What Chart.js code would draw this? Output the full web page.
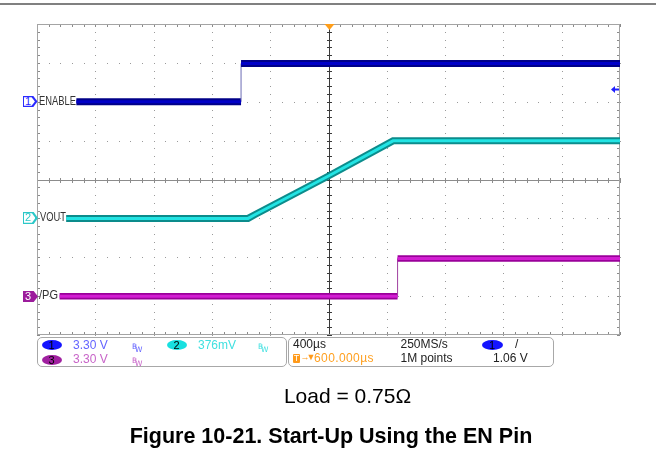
<!DOCTYPE html>
<html>
<head>
<meta charset="utf-8">
<script src="https://cdn.jsdelivr.net/npm/chart.js@4"></script>
<style>
  body { margin: 0; background: #fff; }
  #wrap { position: relative; width: 656px; height: 450px; overflow: hidden; background: #fff; font-family: "Liberation Sans", Arial, sans-serif; }
  #scope { position: absolute; left: 0; top: 0; }
  .t { position: absolute; white-space: nowrap; line-height: 1.15; font-size: 12px; }
  .box { position: absolute; box-sizing: border-box; border: 1px solid #a8a8a8; border-radius: 5px; }
  .badge { position: absolute; width: 20px; height: 10px; border-radius: 50%; font-size: 11px; line-height: 10px; text-align: center; color: #000; }
  .lbl { position: absolute; white-space: nowrap; font-size: 13px; line-height: 1.15; color: #333; transform-origin: 0 0; }
  .tag { position: absolute; height: 11px; clip-path: polygon(0 0, 72% 0, 100% 50%, 72% 100%, 0 100%); }
  .tag i { position: absolute; left: 1.3px; top: 1.3px; right: 2.6px; bottom: 1.3px; background: #fff;
           clip-path: polygon(0 0, 70% 0, 100% 50%, 70% 100%, 0 100%); }
  .tag b { position: absolute; left: 1px; top: -1px; width: 9px; font-weight: normal; font-size: 11px; line-height: 13px; text-align: center; }
  .bw { position: absolute; font-size: 7.5px; line-height: 7px; font-family: "DejaVu Sans", sans-serif; }
</style>
</head>
<body>
<div id="wrap">
  <div style="position:absolute;left:0;top:3px;width:656px;height:2px;background:#808080"></div>
  <canvas id="scope" width="656" height="450"></canvas>

  <!-- channel ground markers + labels -->
  <div class="tag" style="left:22.5px;top:96px;width:15px;background:#2a2aff"><i></i><b style="color:#2a2aff">1</b></div>
  <div class="lbl" style="left:38.5px;top:94.2px;transform:scaleX(0.72)">ENABLE</div>
  <div class="tag" style="left:22.5px;top:212px;width:15.5px;height:12px;background:#2cc8c8"><i></i><b style="color:#2cc8c8">2</b></div>
  <div class="lbl" style="left:40px;top:209.9px;transform:scaleX(0.72)">VOUT</div>
  <div class="tag" style="left:22.5px;top:291px;width:15.5px;background:#9c1c9c"><b style="color:#fff">3</b></div>
  <div class="lbl" style="left:38.5px;top:287.5px;transform:scaleX(0.85)">/PG</div>

  <!-- info panel -->
  <div class="box" style="left:37px;top:337px;width:250px;height:30px"></div>
  <div class="box" style="left:288px;top:337px;width:266px;height:30px"></div>

  <div class="badge" style="left:41.5px;top:339.5px;background:#1414ff">1</div>
  <div class="t" style="left:73px;top:338.6px;color:#6464ff">3.30 V</div>
  <div class="bw" style="left:132px;top:343px;color:#6464ff">B</div><div class="bw" style="left:135px;top:346px;color:#6464ff">W</div>
  <div class="badge" style="left:166.5px;top:339.5px;background:#18e0e0">2</div>
  <div class="t" style="left:198px;top:338.6px;color:#40e0e0">376mV</div>
  <div class="bw" style="left:258px;top:343px;color:#40e0e0">B</div><div class="bw" style="left:261px;top:346px;color:#40e0e0">W</div>
  <div class="badge" style="left:41.5px;top:354.5px;background:#a020a0">3</div>
  <div class="t" style="left:73px;top:352.6px;color:#c864c8">3.30 V</div>
  <div class="bw" style="left:132px;top:357px;color:#c864c8">B</div><div class="bw" style="left:135px;top:360px;color:#c864c8">W</div>

  <div class="t" style="left:293px;top:338.1px;color:#222">400µs</div>
  <div class="t" style="left:293px;top:354px;width:7px;height:9px;background:#ff9a1a;border-radius:1px;color:#fff;font-size:9px;line-height:9px;text-align:center">T</div>
  <div class="t" style="left:300.5px;top:352.4px;color:#ff9a1a;font-size:9px">→</div>
  <div class="t" style="left:306.5px;top:352.4px;color:#ff9a1a;font-size:9px">▼</div>
  <div class="t" style="left:314px;top:352.4px;color:#ffa020;letter-spacing:0.4px">600.000µs</div>
  <div class="t" style="left:400.5px;top:338.1px;color:#222">250MS/s</div>
  <div class="t" style="left:400.5px;top:352.4px;color:#222">1M points</div>
  <div class="badge" style="left:481.5px;top:340px;width:21px;background:#1414ff">1</div>
  <div class="t" style="left:515px;top:338.1px;color:#222">/</div>
  <div class="t" style="left:493px;top:352.4px;color:#222">1.06 V</div>

  <!-- caption -->
  <div class="t" style="left:347.5px;top:383.5px;font-size:21px;color:#000;transform:translateX(-50%)">Load = 0.75Ω</div>
  <div class="t" style="left:331px;top:423.5px;font-size:21.5px;font-weight:bold;color:#000;transform:translateX(-50%)">Figure 10-21. Start-Up Using the EN Pin</div>
</div>

<script>
// time axis in µs, trigger (ENABLE edge) at 0, 400 µs/div, 10 div
const timeMin = -1400;
const timeMax = 2600;
const usPerDiv = 400;

// volts per division and ground offset (div from centre) per channel
const ch1VoltsDiv = 3.3,   ch1Offset = 2;
const ch2VoltsDiv = 0.376, ch2Offset = -1;
const ch3VoltsDiv = 3.3,   ch3Offset = -3;
const trigLevel = 1.06;

// Ch1 ENABLE
const enableTime = [-1130, 0, 0, 2600];
const enableVolts = [0, 0, 3.25, 3.25];
// Ch2 VOUT
const voutTime = [-1200, 48, 100, 600, 1043, 2600];
const voutVolts = [0, 0, 0.04, 0.41, 0.75, 0.75];
// Ch3 /PG
const pgTime = [-1245, 1074, 1074, 2600];
const pgVolts = [0, 0, 3.2, 3.2];

function pts(ts, vs) {
    return ts.map((t, i) => ({ x: t, y: vs[i] }));
}

function chScale(vdiv, off) {
    return { display: false, min: (-4 - off) * vdiv, max: (4 - off) * vdiv };
}

const isEdge = ctx => ctx.p0.parsed.x === ctx.p1.parsed.x;

function trace(data, axis, color, width, edgeColor, order) {
    return {
        data: data,
        yAxisID: axis,
        borderColor: color,
        borderWidth: width,
        pointRadius: 0,
        tension: 0,
        order: order,
        segment: {
            borderWidth: ctx => isEdge(ctx) ? 1 : undefined,
            borderColor: ctx => isEdge(ctx) ? edgeColor : undefined
        }
    };
}

// scope graticule: dotted divisions, centre cross, border ticks
const graticule = {
    id: 'graticule',
    beforeDatasetsDraw(chart) {
        const { ctx, chartArea: a, scales } = chart;
        const x = scales.x, yd = scales.yDiv;
        const xs = [], ys = [];
        for (let k = 0; k <= 50; k++) xs.push(Math.round(x.getPixelForValue(timeMin + k * usPerDiv / 5)));
        for (let k = 0; k <= 40; k++) ys.push(Math.round(yd.getPixelForValue(-4 + k / 5)));
        const cx = xs[25], cy = ys[20];
        ctx.save();
        ctx.fillStyle = '#9a9a9a';
        // dotted division lines
        for (let d = 1; d < 10; d++) {
            if (d === 5) continue;
            ys.forEach(py => ctx.fillRect(xs[d * 5], py, 1, 1));
        }
        for (let d = 1; d < 8; d++) {
            if (d === 4) continue;
            xs.forEach(px => ctx.fillRect(px, ys[d * 5], 1, 1));
        }
        // border ticks
        ctx.fillStyle = '#8a8a8a';
        xs.forEach(px => { ctx.fillRect(px, a.top, 1, 3); ctx.fillRect(px, a.bottom - 3, 1, 3); });
        ys.forEach(py => { ctx.fillRect(a.left, py, 3, 1); ctx.fillRect(a.right - 3, py, 3, 1); });
        // centre cross
        ctx.fillStyle = '#8c8c8c';
        ctx.fillRect(a.left, cy, a.right - a.left, 1);
        xs.forEach(px => ctx.fillRect(px, cy - 2, 1, 5));
        ctx.fillStyle = '#3a3a3a';
        ctx.fillRect(cx, a.top, 1, a.bottom - a.top);
        ys.forEach(py => ctx.fillRect(cx - 2, py, 5, 1));
        // frame
        ctx.strokeStyle = '#a4a4a4';
        ctx.lineWidth = 1;
        ctx.strokeRect(a.left + 0.5, a.top + 0.5, a.right - a.left - 1, a.bottom - a.top - 1);
        ctx.restore();
    },
    afterDatasetsDraw(chart) {
        const { ctx, chartArea: a, scales } = chart;
        const cx = Math.round(scales.x.getPixelForValue(timeMin + 5 * usPerDiv));
        ctx.save();
        // trigger position marker
        ctx.fillStyle = '#ff9e1a';
        ctx.beginPath();
        ctx.moveTo(cx - 4.5, a.top);
        ctx.lineTo(cx + 5.5, a.top);
        ctx.lineTo(cx + 0.5, a.top + 6);
        ctx.closePath();
        ctx.fill();
        // trigger level marker (ch1)
        const ty = Math.round(scales.y1.getPixelForValue(trigLevel)) + 0.5;
        ctx.fillStyle = '#2020ff';
        ctx.beginPath();
        ctx.moveTo(a.right - 9, ty);
        ctx.lineTo(a.right - 5, ty - 3.5);
        ctx.lineTo(a.right - 5, ty + 3.5);
        ctx.closePath();
        ctx.fill();
        ctx.fillRect(a.right - 5, ty - 1, 4, 2);
        ctx.restore();
    }
};

new Chart(document.getElementById('scope').getContext('2d'), {
    type: 'line',
    data: {
        datasets: [
            trace(pts(enableTime, enableVolts), 'y1', '#0000c8', 3, 'rgba(0,0,0,0)', 1),
            trace(pts(enableTime, enableVolts), 'y1', '#000088', 7, '#6c6cb4', 2),
            trace(pts(voutTime, voutVolts), 'y2', '#22e4e4', 3, 'rgba(0,0,0,0)', 1),
            trace(pts(voutTime, voutVolts), 'y2', '#0c8c8c', 7, '#0c8c8c', 2),
            trace(pts(pgTime, pgVolts), 'y3', '#d21ed2', 3, 'rgba(0,0,0,0)', 1),
            trace(pts(pgTime, pgVolts), 'y3', '#9a009a', 6.5, '#a040a0', 2)
        ]
    },
    options: {
        responsive: false,
        animation: false,
        devicePixelRatio: 1,
        layout: { padding: { left: 37, right: 36, top: 24, bottom: 115 } },
        plugins: { legend: { display: false }, tooltip: { enabled: false } },
        scales: {
            x: { type: 'linear', display: false, min: timeMin, max: timeMax },
            yDiv: { display: false, min: -4, max: 4 },
            y1: chScale(ch1VoltsDiv, ch1Offset),
            y2: chScale(ch2VoltsDiv, ch2Offset),
            y3: chScale(ch3VoltsDiv, ch3Offset)
        }
    },
    plugins: [graticule]
});
</script>
</body>
</html>
